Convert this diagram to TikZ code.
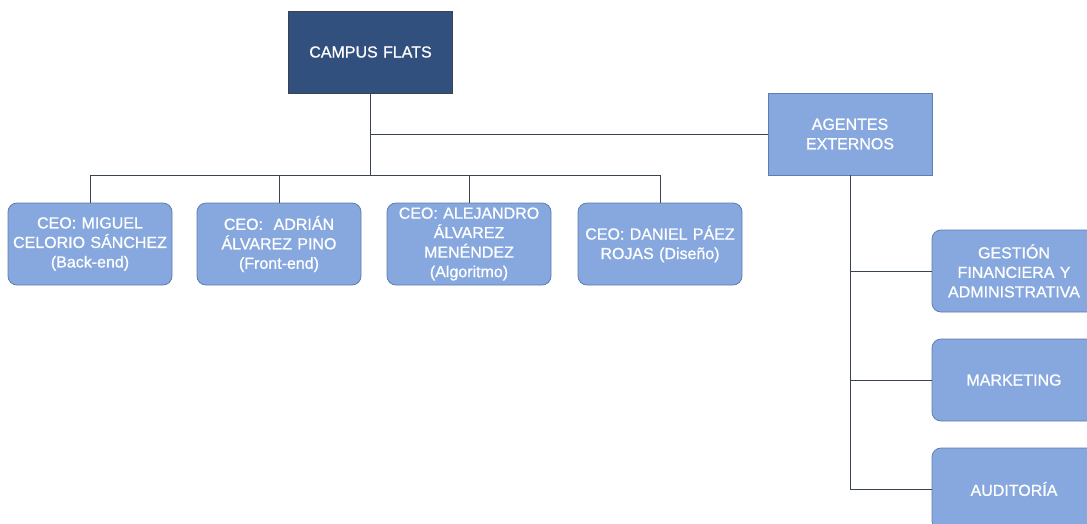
\documentclass[tikz,border=0pt]{standalone}
\usepackage{fontspec}
\setmainfont{Liberation Sans}
\newfontfamily\boxfont[FakeBold=0.8]{Liberation Sans}
\usetikzlibrary{positioning}

\definecolor{darkblue}{HTML}{32507E}
\definecolor{lightblue}{HTML}{87A8DE}
\definecolor{edgeblue}{HTML}{5F7DAE}
\definecolor{linegray}{HTML}{3A4350}

\tikzset{
  box/.style={rectangle, draw=edgeblue, fill=lightblue, text=white,
    minimum width=164pt, minimum height=82pt, text width=160pt,
    align=center, inner sep=0pt, line width=0.8pt,
    font=\boxfont\fontsize{16}{19.5}\selectfont},
  roundbox/.style={box, rounded corners=9pt},
  topbox/.style={box, fill=darkblue, draw=linegray},
  link/.style={draw=linegray, line width=1pt}
}

\begin{document}
\begin{tikzpicture}[x=1pt, y=-1pt]
\useasboundingbox (0,0) rectangle (1087,523);
\clip (0,0) rectangle (1087,523);

% Top of the chart
\node [topbox] (campus) at (370.5,52) {CAMPUS FLATS};
\node [box] (agentes) at (850,134) {AGENTES\\EXTERNOS};

% CEOs
\node [roundbox] (ceo1) at (90,244) {CEO: MIGUEL\\CELORIO SÁNCHEZ\\(Back-end)};
\node [roundbox] (ceo2) at (279,244) {CEO:~ ADRIÁN\\ÁLVAREZ PINO\\(Front-end)};
\node [roundbox] (ceo3) at (469,244) {CEO: ALEJANDRO\\ÁLVAREZ\\MENÉNDEZ\\(Algoritmo)};
\node [roundbox] (ceo4) at (660,244) {CEO: DANIEL PÁEZ\\ROJAS (Diseño)};

% External agents
\node [roundbox] (gestion) at (1014,271) {GESTIÓN\\FINANCIERA Y\\ADMINISTRATIVA};
\node [roundbox] (marketing) at (1014,380) {MARKETING};
\node [roundbox] (auditoria) at (1014,489) {AUDITORÍA};

% Connectors
\coordinate (bar) at (370.5,175);
\draw [link] (campus.south) |- (agentes.west);
\draw [link] (campus.south) -- (bar);
\draw [link] (ceo1.north) -- (ceo1.north |- bar) -- (ceo4.north |- bar) -- (ceo4.north);
\draw [link] (ceo2.north) -- (ceo2.north |- bar);
\draw [link] (ceo3.north) -- (ceo3.north |- bar);
\draw [link] (agentes.south) |- (auditoria.west);
\draw [link] (agentes.south) |- (gestion.west);
\draw [link] (agentes.south) |- (marketing.west);

\end{tikzpicture}
\end{document}
